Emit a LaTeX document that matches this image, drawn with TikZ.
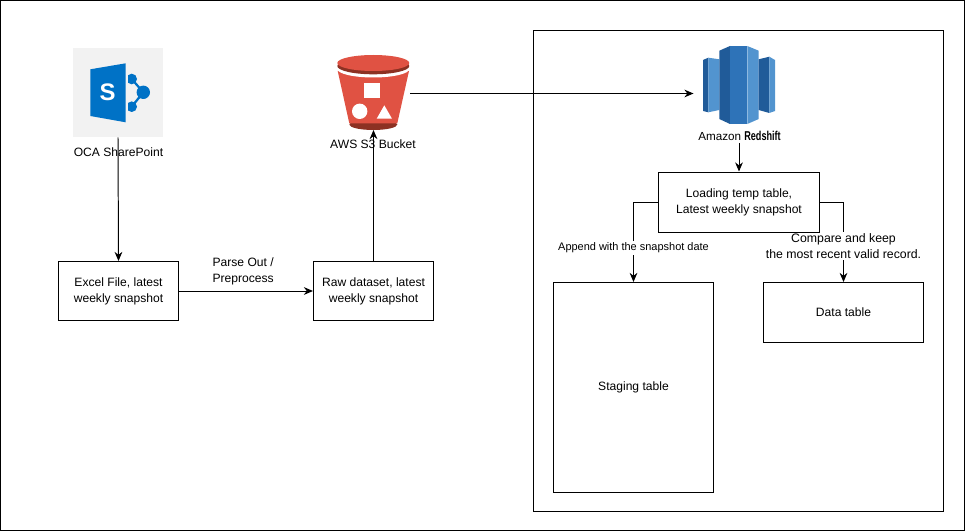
\documentclass[tikz,border=0pt]{standalone}
\usepackage{fontspec}
\setmainfont{Liberation Sans}
\usepackage{xcolor}
\usetikzlibrary{arrows.meta,positioning,calc,backgrounds}
\definecolor{spgrey}{HTML}{F2F2F2}
\definecolor{spblue}{HTML}{0072C6}
\definecolor{bktred}{HTML}{E05243}
\definecolor{bktdark}{HTML}{8C3123}
\definecolor{rsdark}{HTML}{205B99}
\definecolor{rsmid}{HTML}{2E73B8}
\definecolor{rslight}{HTML}{5294CF}
\tikzset{
  boxnode/.style={draw=black, fill=white, line width=0.7pt, align=center, font=\fontsize{8.6pt}{11.4pt}\selectfont, inner sep=0pt},
  textnode/.style={align=center, font=\fontsize{8.6pt}{11.4pt}\selectfont, inner sep=1pt},
  labelnode/.style={textnode, fill=white},
  conn/.style={line width=0.7pt, -{Stealth[length=6.5pt,width=5.5pt]}},
}
\begin{document}
\begin{tikzpicture}[x=0.025cm, y=-0.025cm]
    %%Frame
    \useasboundingbox (0,0) rectangle (965,531);
    \draw[line width=0.7pt] (0.5,0.5) rectangle (964.5,530.5);
    \draw[line width=0.7pt] (533.5,30.5) rectangle (943.5,511);
    %%SharePoint icon
    \node[fill=spgrey, minimum width=2.25cm, minimum height=2.225cm, inner sep=0pt] (sharepoint) at (118,92.5) {};
    \begin{scope}
        \clip (128,60) rectangle (155,125);
        \fill[spblue] (131.7,79) circle (5.3) (143.3,92.3) circle (6.7) (131.7,106.7) circle (5.3);
        \draw[spblue, line width=1.6pt] (131.7,79) to (143.3,92.3) to (131.7,106.7);
    \end{scope}
    \fill[spblue] (90.3,69.3) -- (125.7,63.3) -- (125.7,122.3) -- (90.3,116) -- cycle;
    \node[text=white, font=\fontsize{17pt}{17pt}\bfseries\selectfont, inner sep=0pt] (sletter) at (107.7,92.5) {S};
    %%S3 bucket
    \fill[bktdark] (373.3,124.5) ellipse (24 and 5.5);
    \fill[bktred] (337.7,71) -- (409,71) -- (397.3,123.3) -- (349.3,123.3) -- cycle;
    \fill[white] (373.3,69) ellipse (36 and 8.5);
    \fill[bktdark] (373.3,66) ellipse (36 and 8.3);
    \fill[bktred] (373.3,63) ellipse (36 and 8);
    \fill[white] (364.3,82.7) rectangle (380,98.3);
    \fill[white] (359.7,111.3) circle (7.7);
    \fill[white] (376.7,118.7) -- (392,118.7) -- (384.3,105.3) -- cycle;
    \coordinate (bucket) at (373.5,130);
    \coordinate (bucketout) at (410,93.5);
    %%Redshift icon
    \fill[rsdark] (703,60) -- (708.3,57.7) -- (708.3,112.3) -- (703,111) -- cycle;
    \fill[rslight] (708.3,57.7) -- (719.3,59.3) -- (719.3,110) -- (708.3,112.3) -- cycle;
    \fill[rsdark] (719.3,50.7) -- (730,46) -- (730,124) -- (719.3,119) -- cycle;
    \fill[rsmid] (730,46) rectangle (747.3,124);
    \fill[rslight] (747.3,46) -- (758.7,50.7) -- (758.7,119) -- (747.3,124) -- cycle;
    \fill[rsdark] (758.7,59.3) -- (769.3,56.7) -- (769.3,113) -- (758.7,110) -- cycle;
    \fill[rslight] (769.3,56.7) -- (775,60) -- (775,111) -- (769.3,113) -- cycle;
    \coordinate (redshiftin) at (693.5,93.5);
    \coordinate (redshift) at (739,143);
    %%Icon captions
    \node[textnode] (sharepointtxt) at (118.5,152.5) {OCA SharePoint};
    \node[textnode] (buckettxt) at (373,144.5) {AWS S3 Bucket};
    \node[textnode, font=\fontsize{8.3pt}{10pt}\selectfont] (redshifttxt) at (739.5,135.5) {Amazon \scalebox{0.78}[1.1]{\textbf{Redshift}}};
    %%Boxes
    \node[boxnode, minimum width=3cm, minimum height=1.475cm] (excel) at (118.5,291) {Excel File, latest\\weekly snapshot};
    \node[boxnode, minimum width=3cm, minimum height=1.475cm] (raw) at (373.5,291) {Raw dataset, latest\\weekly snapshot};
    \node[boxnode, minimum width=4cm, minimum height=1.5cm] (loading) at (739,202) {Loading temp table,\\Latest weekly snapshot};
    \node[boxnode, minimum width=4cm, minimum height=5.25cm] (staging) at (633.5,387.5) {Staging table};
    \node[boxnode, minimum width=4cm, minimum height=1.5cm] (data) at (843.5,312.5) {Data table};
    %%Connectors
    \draw[conn] (sharepoint.south) to (excel.north);
    \draw[conn] (excel.east) to node[above=3pt, xshift=-2pt, textnode] (parse) {Parse Out /\\Preprocess} (raw.west);
    \draw[conn] (raw.north) to (bucket);
    \draw[conn] (bucketout) to (redshiftin);
    \draw[conn] (redshift) to (loading.north);
    \draw[conn] (loading.west) -| node[pos=0.7875, labelnode, font=\fontsize{7.8pt}{10pt}\selectfont] (append) {Append with the snapshot date} (staging.north);
    %%Label lies under the box edge
    \begin{scope}[on background layer]
        \draw[conn] (loading.east) -| node[pos=0.775, labelnode, font=\fontsize{8.75pt}{11.4pt}\selectfont] (compare) {Compare and keep\\the most recent valid record.} (data.north);
    \end{scope}
\end{tikzpicture}
\end{document}
